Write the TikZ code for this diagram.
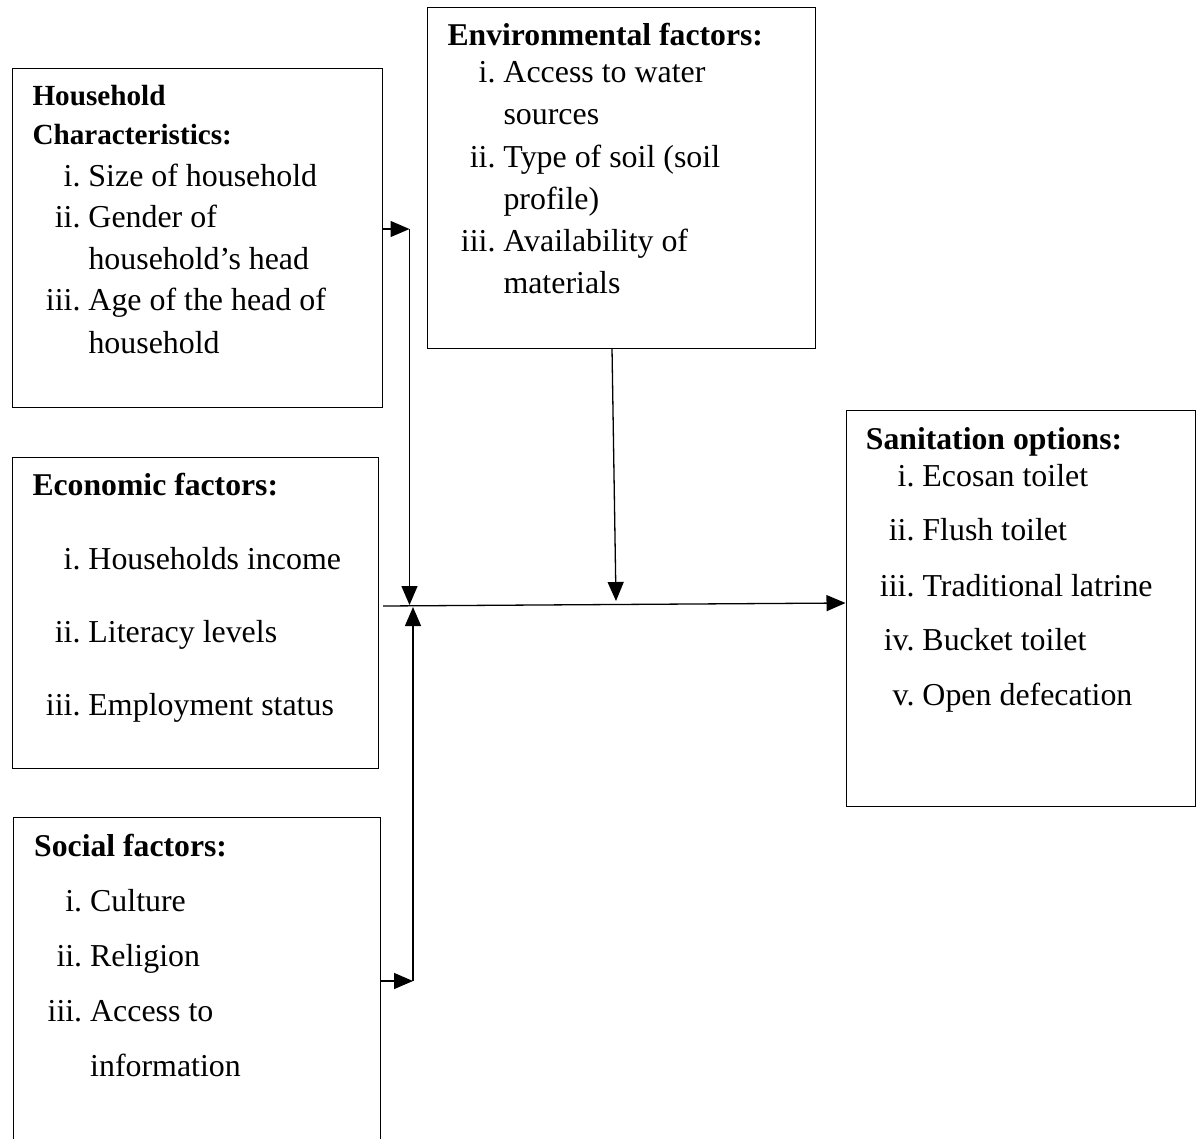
\documentclass[tikz,border=0pt]{standalone}
\usepackage{fontspec}
\setmainfont{Liberation Serif}
\usetikzlibrary{arrows.meta}
\begin{document}
\begin{tikzpicture}[x=1pt,y=-1pt,
  box/.style={draw, line width=1.3pt, anchor=north west, inner sep=0pt},
  txt/.style={anchor=base west, inner sep=0pt, font=\fontsize{31.9}{38}\selectfont},
  head/.style={anchor=base west, inner sep=0pt, font=\fontsize{31.7}{38}\selectfont\bfseries},
  smallhead/.style={head, font=\fontsize{29.2}{36}\selectfont\bfseries},
  conn/.style={line width=1.3pt},
  arr/.style={conn, -{Triangle[length=19pt,width=16pt]}}]
\newcommand\lbl[1]{\llap{#1\hspace{8pt}}}
\useasboundingbox (0,0) rectangle (1196,1138);
\clip (0,0) rectangle (1196,1138);

% boxes
\node[box, minimum width=370pt, minimum height=339pt] (hh) at (11.5,68) {};
\node[box, minimum width=388.5pt, minimum height=341pt] (env) at (426.5,7) {};
\node[box, minimum width=366.5pt, minimum height=311pt] (eco) at (11.5,456.5) {};
\node[box, minimum width=366.5pt, minimum height=340pt] (soc) at (13,816.5) {};
\node[box, minimum width=349.5pt, minimum height=396.5pt] (san) at (845.5,409.5) {};

% Household text
\node[smallhead] (hh0) at (32.3,105.7) {Household};
\node[smallhead] (hh00) at (32.3,144) {Characteristics:};
\node[txt] (hh1) at (88.3,186) {\lbl{i.}Size of household};
\node[txt] (hh2) at (88.3,227.5) {\lbl{ii.}Gender of};
\node[txt] (hh2b) at (88.3,269) {household’s head};
\node[txt] (hh3) at (88.3,310.7) {\lbl{iii.}Age of the head of};
\node[txt] (hh3b) at (88.3,353) {household};

% Environmental text
\node[head] (env0) at (447.3,45.7) {Environmental factors:};
\node[txt] (env1) at (503.3,82.3) {\lbl{i.}Access to water};
\node[txt] (env1b) at (503.3,124.3) {sources};
\node[txt] (env2) at (503.3,167.3) {\lbl{ii.}Type of soil (soil};
\node[txt] (env2b) at (503.3,209) {profile)};
\node[txt] (env3) at (503.3,251.7) {\lbl{iii.}Availability of};
\node[txt] (env3b) at (503.3,293.3) {materials};

% Economic text
\node[head] (eco0) at (32.3,495.7) {Economic factors:};
\node[txt] (eco1) at (88.3,569) {\lbl{i.}Households income};
\node[txt] (eco2) at (88.3,642.3) {\lbl{ii.}Literacy levels};
\node[txt] (eco3) at (88.3,715.7) {\lbl{iii.}Employment status};

% Social text
\node[head] (soc0) at (34,856.7) {Social factors:};
\node[txt] (soc1) at (90,911.7) {\lbl{i.}Culture};
\node[txt] (soc2) at (90,966.7) {\lbl{ii.}Religion};
\node[txt] (soc3) at (90,1021.7) {\lbl{iii.}Access to};
\node[txt] (soc3b) at (90,1076.7) {information};

% Sanitation text
\node[head] (san0) at (865.7,449.3) {Sanitation options:};
\node[txt] (san1) at (922.3,486) {\lbl{i.}Ecosan toilet};
\node[txt] (san2) at (922.3,540.7) {\lbl{ii.}Flush toilet};
\node[txt] (san3) at (922.3,596) {\lbl{iii.}Traditional latrine};
\node[txt] (san4) at (922.3,650.7) {\lbl{iv.}Bucket toilet};
\node[txt] (san5) at (922.3,705) {\lbl{v.}Open defecation};

% connectors
\coordinate (j1) at (409.5,229);
\coordinate (m1) at (409.5,605);
\coordinate (j2) at (413,981);
\coordinate (m2) at (413,607);
\coordinate (h0) at (383,606);
\coordinate (h1) at (845.5,603);
\coordinate (e0) at (612,348);
\coordinate (e1) at (616,601);

\draw[arr] (hh.east |- j1) -- (j1);
\draw[arr] (j1) -- (m1);
\draw[arr] (soc.east |- j2) -- (j2);
\draw[arr] (j2) -- (m2);
\draw[arr] (h0) -- (h1);
\draw[arr] (e0) -- (e1);
\end{tikzpicture}
\end{document}
